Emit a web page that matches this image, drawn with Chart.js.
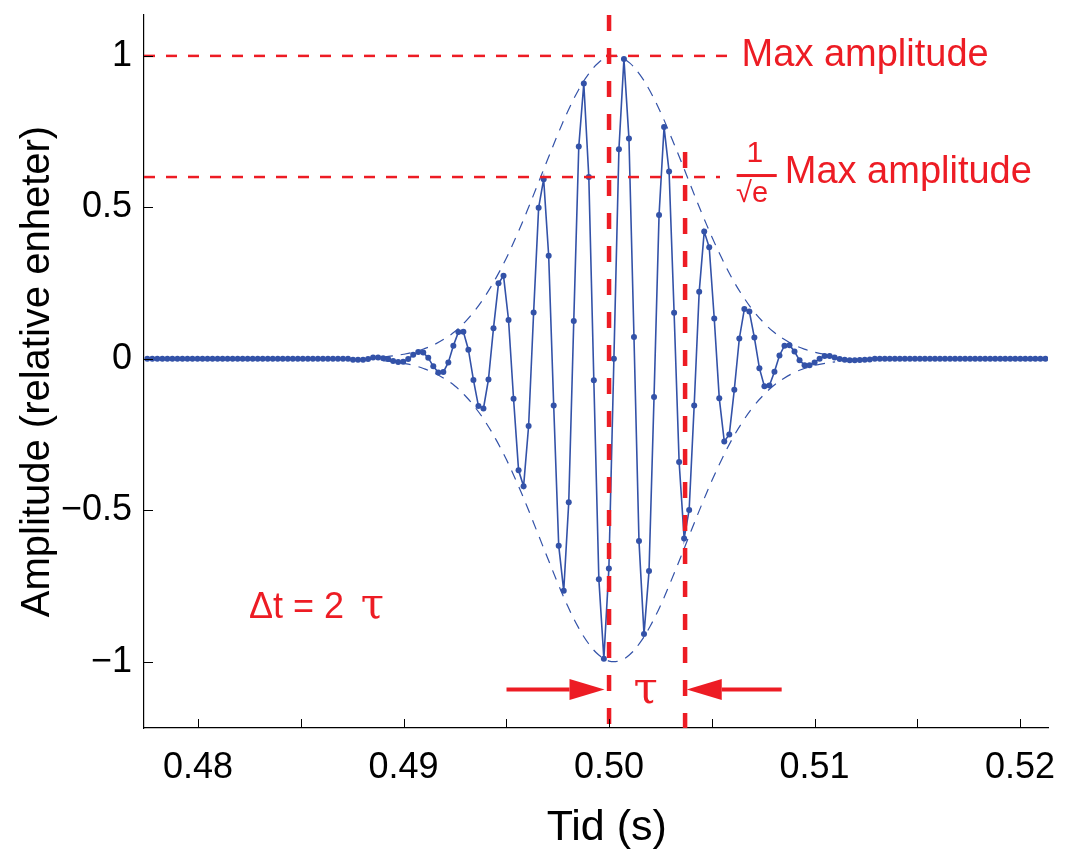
<!DOCTYPE html>
<html>
<head>
<meta charset="utf-8">
<script src="https://cdn.jsdelivr.net/npm/chart.js@4.4.0/dist/chart.umd.min.js"></script>
<style>
  body { margin: 0; background: #fff; }
  #pulse { display: block; }
</style>
</head>
<body>
<canvas id="pulse" width="1065" height="850"></canvas>
<script>
// sampled pulse, 4096 Hz, first sample time
var sampleStart = 0.477531;
var sampleStep = 1 / 4096;
var signal = [
  0,0,0,0,0,0,0,0,0,0,
  0,0,0,0,0,0,0,0,0,0,
  0,0,0,0,0,0,0,0,0,0,
  0,0,0,0,0,0,0,0,0,0,
  0,
  -0.003,-0.003,-0.003,-0.001,
  0.004,0.004,0.002,-0.001,-0.007,-0.011,-0.010,-0.001,0.013,0.022,
  0.021,0.003,-0.025,-0.045,-0.044,-0.012,0.043,0.088,0.089,0.030,
  -0.070,-0.156,-0.164,-0.068,0.101,0.249,0.274,0.128,-0.132,-0.368,
  -0.421,-0.222,0.153,0.499,0.593,0.340,-0.154,-0.617,-0.766,-0.474,
  0.125,0.701,0.909,0.600,-0.071,-0.728,-0.990,-0.692,0.000,
  0.692,0.990,0.727,0.072,-0.602,-0.909,-0.701,-0.126,0.475,0.765,
  0.618,0.152,-0.341,-0.593,-0.499,-0.154,0.221,0.420,0.368,0.133,
  -0.130,-0.273,-0.250,-0.102,0.067,0.164,0.156,0.070,-0.031,-0.091,
  -0.088,-0.043,0.011,0.043,0.045,0.024,-0.005,-0.021,-0.021,-0.012,
  0.000,0.009,0.009,0.004,-0.001,-0.003,-0.005,-0.005,
  -0.004,-0.003,-0.002,
  0,0,0,0,0,0,0,0,0,0,
  0,0,0,0,0,0,0,0,0,0,
  0,0,0,0,0,0,0,0,0,0,
  0,0,0,0,0
];

// dashed envelope (upper half), every 0.5 ms
var envStart = 0.489;
var envStep = 0.0005;
var envelope = [
  0.006,0.010,0.015,0.022,0.033,0.047,0.066,0.090,0.122,0.162,
  0.210,0.267,0.332,0.406,0.486,0.571,0.656,0.740,0.818,0.886,
  0.940,0.978,0.998,0.997,0.977,0.938,0.883,0.815,0.736,0.653,
  0.567,0.483,0.403,0.330,0.264,0.208,0.160,0.121,0.089,0.065,
  0.046,0.032,0.022,0.015,0.010
];

var xTicks = [0.48,0.485,0.49,0.495,0.50,0.505,0.51,0.515,0.52];
var yTicks = [-1,-0.5,0,0.5,1];
var xMin = 0.47737, xMax = 0.52136;
var yMin = -1.219, yMax = 1.135;

var maxLevel = 1, eLevel = 0.6;
var maxLineEnd = 0.5058, eLineEnd = 0.5054;
var tCenter = 0.5, tTau = 0.5037, tauTop = 0.683;
var arrowY = -1.092;
var arrowLeft = [0.49501, 0.49978];
var arrowRight = [0.50840, 0.50378];

var red = 'rgb(237,28,36)';
var blue = '#3352a8';

var signalPts = signal.map(function (v, i) { return { x: sampleStart + i * sampleStep, y: v }; });
var envUpper = envelope.map(function (v, i) { return { x: envStart + i * envStep, y: v }; });
var envLower = envelope.map(function (v, i) { return { x: envStart + i * envStep, y: -v }; });

var notes = [
  { text: 'Max amplitude', x: 0.50645, y: 0.9656, font: '38px "Liberation Sans"', align: 'left' },
  { text: 'Max amplitude', x: 0.50855, y: 0.5795, font: '38px "Liberation Sans"', align: 'left' },
  { text: '1', x: 0.50709, y: 0.650, font: '30px "Liberation Sans"', align: 'center' },
  { text: '\u221Ae', x: 0.50618, y: 0.518, font: '29px "Liberation Sans"', align: 'left' },
  { text: '\u0394t = 2', x: 0.48248, y: -0.857, font: '36px "Liberation Sans"', align: 'left' },
  { text: '\u03C4', x: 0.48848, y: -0.857, font: '42px "DejaVu Serif"', align: 'center' },
  { text: '\u03C4', x: 0.50178, y: -1.138, font: '44px "DejaVu Serif"', align: 'center' }
];
var fracBar = [0.50621, 0.50816, 0.605];

function redLine(pts, width, dash) {
  return {
    data: pts, borderColor: red, borderWidth: width, borderDash: dash,
    pointRadius: 0, fill: false, tension: 0
  };
}

var extras = {
  id: 'extras',
  afterDatasetsDraw: function (chart) {
    var ctx = chart.ctx, xs = chart.scales.x, ys = chart.scales.y, area = chart.chartArea;
    ctx.save();

    // inward tick marks
    ctx.strokeStyle = '#000';
    ctx.lineWidth = 1;
    xTicks.forEach(function (v) {
      var px = Math.round(xs.getPixelForValue(v)) + 0.5;
      ctx.beginPath(); ctx.moveTo(px, area.bottom); ctx.lineTo(px, area.bottom - 9); ctx.stroke();
    });
    yTicks.forEach(function (v) {
      var py = Math.round(ys.getPixelForValue(v)) + 0.5;
      ctx.beginPath(); ctx.moveTo(area.left, py); ctx.lineTo(area.left + 9, py); ctx.stroke();
    });

    // arrows
    function arrow(from, tip) {
      var x0 = xs.getPixelForValue(from), x1 = xs.getPixelForValue(tip), y = ys.getPixelForValue(arrowY);
      var dir = x1 > x0 ? 1 : -1, headLen = 35, headHalf = 10.5;
      ctx.strokeStyle = red; ctx.fillStyle = red; ctx.lineWidth = 4;
      ctx.beginPath(); ctx.moveTo(x0, y); ctx.lineTo(x1 - dir * headLen, y); ctx.stroke();
      ctx.beginPath();
      ctx.moveTo(x1, y);
      ctx.lineTo(x1 - dir * headLen, y - headHalf);
      ctx.lineTo(x1 - dir * headLen, y + headHalf);
      ctx.closePath(); ctx.fill();
    }
    arrow(arrowLeft[0], arrowLeft[1]);
    arrow(arrowRight[0], arrowRight[1]);

    // fraction bar of 1/sqrt(e)
    ctx.fillStyle = red;
    var fy = ys.getPixelForValue(fracBar[2]);
    ctx.fillRect(xs.getPixelForValue(fracBar[0]), fy - 1.5, xs.getPixelForValue(fracBar[1]) - xs.getPixelForValue(fracBar[0]), 3);

    // text notes
    ctx.textBaseline = 'alphabetic';
    notes.forEach(function (n) {
      ctx.font = n.font;
      ctx.textAlign = n.align;
      ctx.fillText(n.text, xs.getPixelForValue(n.x), ys.getPixelForValue(n.y));
    });
    ctx.restore();
  }
};

new Chart(document.getElementById('pulse'), {
  type: 'line',
  data: {
    datasets: [
      redLine([{ x: tCenter, y: yMax }, { x: tCenter, y: yMin }], 4.5, [16, 17]),
      redLine([{ x: tTau, y: tauTop }, { x: tTau, y: yMin }], 4.5, [16, 17]),
      redLine([{ x: xMin, y: maxLevel }, { x: maxLineEnd, y: maxLevel }], 2.5, [11, 11]),
      redLine([{ x: xMin, y: eLevel }, { x: eLineEnd, y: eLevel }], 2.5, [11, 11]),
      {
        data: signalPts, borderColor: blue, borderWidth: 1.6,
        pointRadius: 3, pointBackgroundColor: blue, pointBorderColor: blue, pointBorderWidth: 0,
        fill: false, tension: 0
      },
      {
        data: envUpper, borderColor: blue, borderWidth: 1.2, borderDash: [10, 8],
        pointRadius: 0, fill: false, tension: 0.4
      },
      {
        data: envLower, borderColor: blue, borderWidth: 1.2, borderDash: [10, 8],
        pointRadius: 0, fill: false, tension: 0.4
      }
    ]
  },
  options: {
    responsive: false,
    animation: false,
    layout: { padding: { left: 0, top: 15, right: 17, bottom: 0 } },
    plugins: { legend: { display: false }, tooltip: { enabled: false } },
    scales: {
      x: {
        type: 'linear', min: xMin, max: xMax,
        afterBuildTicks: function (s) { s.ticks = xTicks.map(function (v) { return { value: v }; }); },
        afterFit: function (s) {
          s.height = 122;
          s.paddingLeft = 0; s.paddingRight = 0;
        },
        grid: { drawOnChartArea: false, drawTicks: false },
        border: { display: true, color: '#000', width: 1.2 },
        ticks: {
          padding: 18, color: '#000', maxRotation: 0, autoSkip: false,
          font: { family: 'Liberation Sans', size: 36 },
          callback: function (v) {
            return Math.abs(v * 100 - Math.round(v * 100)) < 1e-6 ? v.toFixed(2) : '';
          }
        },
        title: { display: true, text: '\u2002Tid (s)', color: '#000', padding: { top: 0, bottom: 0 },
          font: { family: 'Liberation Sans', size: 43, lineHeight: 1 } }
      },
      y: {
        type: 'linear', min: yMin, max: yMax,
        afterBuildTicks: function (s) { s.ticks = yTicks.map(function (v) { return { value: v }; }); },
        afterFit: function (s) {
          s.width = 144;
          s.paddingTop = 0; s.paddingBottom = 0;
        },
        grid: { drawOnChartArea: false, drawTicks: false },
        border: { display: true, color: '#000', width: 1.2 },
        ticks: {
          padding: 12, color: '#000', autoSkip: false,
          font: { family: 'Liberation Sans', size: 36 },
          callback: function (v) {
            if (v === 0) return '0';
            return (v < 0 ? '\u2212' : '') + String(Math.abs(v));
          }
        },
        title: { display: true, text: 'Amplitude (relative enheter)', color: '#000',
          padding: { top: 14, bottom: 0 }, font: { family: 'Liberation Sans', size: 40 } }
      }
    }
  },
  plugins: [extras]
});
</script>
</body>
</html>
